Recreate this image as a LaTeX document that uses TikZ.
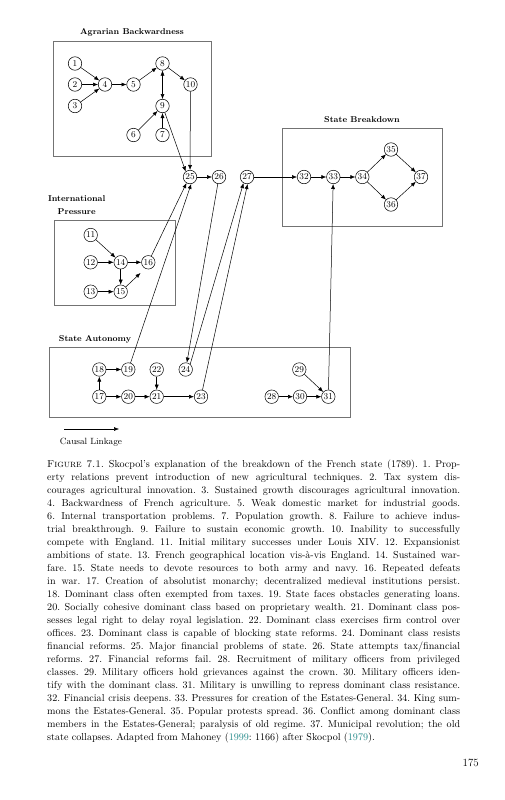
\documentclass[tikz,border=0pt]{standalone}
\usepackage{fontspec}
\usetikzlibrary{arrows.meta}
\definecolor{citeteal}{RGB}{40,140,140}
\definecolor{boxgray}{gray}{0.45}
\begin{document}
\begin{tikzpicture}[x=1pt,y=-1pt,
  n/.style={circle,draw,line width=0.5pt,inner sep=0.4pt,minimum size=13.5pt,font=\fontsize{9}{9}\selectfont},
  ar/.style={-{Latex[length=5pt,width=4pt]},line width=0.5pt},
  dar/.style={{Latex[length=5pt,width=4pt]}-{Latex[length=5pt,width=4pt]},line width=0.5pt},
  grp/.style={draw=boxgray,line width=0.9pt},
  ttl/.style={font=\fontsize{8.5}{12.5}\selectfont\bfseries,align=center,inner sep=0pt}]
\useasboundingbox[fill=white] (0,0) rectangle (505,800);

% group boxes and titles
\draw[grp] (53,41) rectangle (211.5,156);
\node[ttl] (tAgr) at (132,32) {Agrarian Backwardness};
\draw[grp] (282.7,128.3) rectangle (442.7,226);
\node[ttl] (tBrk) at (362,119.5) {State Breakdown};
\draw[grp] (54.3,220.7) rectangle (175.5,305.7);
\node[ttl] (tInt) at (76.7,205) {International\\Pressure};
\draw[grp] (49,347.7) rectangle (350.7,417.3);
\node[ttl] (tAut) at (95,339.3) {State Autonomy};

% Agrarian nodes
\node[n] (n1) at (75,63.5) {1};
\node[n] (n8) at (162.5,63.5) {8};
\node[n] (n2) at (75,84.5) {2};
\node[n] (n4) at (105,84.5) {4};
\node[n] (n5) at (133.5,84.5) {5};
\node[n] (n10) at (190.5,84.5) {10};
\node[n] (n3) at (75,106) {3};
\node[n] (n9) at (162.5,106) {9};
\node[n] (n6) at (133.5,135) {6};
\node[n] (n7) at (162.5,135) {7};

% top row
\node[n] (n25) at (190,177) {25};
\node[n] (n26) at (219,177) {26};
\node[n] (n27) at (247,177) {27};
\node[n] (n32) at (304,177) {32};
\node[n] (n33) at (333.3,177) {33};
\node[n] (n34) at (362.3,177) {34};
\node[n] (n35) at (391,149.5) {35};
\node[n] (n36) at (391,204.5) {36};
\node[n] (n37) at (421,177) {37};

% International
\node[n] (n11) at (90.7,235) {11};
\node[n] (n12) at (90.7,262.3) {12};
\node[n] (n14) at (120.7,262.3) {14};
\node[n] (n16) at (148.3,262.3) {16};
\node[n] (n13) at (90.7,291.7) {13};
\node[n] (n15) at (120.7,291.7) {15};
\coordinate (c15) at (140.5,273);

% Autonomy
\node[n] (n18) at (99.3,369.5) {18};
\node[n] (n19) at (128.3,369.5) {19};
\node[n] (n22) at (156.7,369.5) {22};
\node[n] (n24) at (185.7,369.5) {24};
\node[n] (n29) at (299.3,369.5) {29};
\node[n] (n17) at (99.3,396.7) {17};
\node[n] (n20) at (128.3,396.7) {20};
\node[n] (n21) at (156.7,396.7) {21};
\node[n] (n23) at (201,396.7) {23};
\node[n] (n28) at (271.7,396.7) {28};
\node[n] (n30) at (300,396.7) {30};
\node[n] (n31) at (328.3,396.7) {31};

% edges agrarian
\draw[ar] (n1) -- (n4);
\draw[ar] (n2) -- (n4);
\draw[ar] (n3) -- (n4);
\draw[ar] (n4) -- (n5);
\draw[ar] (n5) -- (n8);
\draw[ar] (n8) -- (n10);
\draw[dar] (n8) -- (n9);
\draw[ar] (n6) -- (n9);
\draw[ar] (n7) -- (n9);
\draw[ar] (n9) -- (n25.128);
\draw[ar] (n10) -- (n25);

% international
\draw[ar] (n11) -- (n14);
\draw[ar] (n12) -- (n14);
\draw[ar] (n14) -- (n16);
\draw[ar] (n14) -- (n15);
\draw[ar] (n13) -- (n15);
\draw[ar] (n15) -- (c15);
\draw[ar] (n16) -- (n25.-120);

% top row
\draw[ar] (n25) -- (n26);
\draw[ar] (n27) -- (n32);
\draw[ar] (n32) -- (n33);
\draw[ar] (n33) -- (n34);
\draw[ar] (n34) -- (n35);
\draw[ar] (n34) -- (n36);
\draw[ar] (n35) -- (n37);
\draw[ar] (n36) -- (n37);

% autonomy
\draw[ar] (n17) -- (n18);
\draw[ar] (n18) -- (n19);
\draw[ar] (n17) -- (n20);
\draw[ar] (n20) -- (n21);
\draw[ar] (n22) -- (n21);
\draw[ar] (n21) -- (n23);
\draw[ar] (n28) -- (n30);
\draw[ar] (n30) -- (n31);
\draw[ar] (n29) -- (n31);

% long links
\draw[ar] (n19) -- (n25.-80);
\draw[ar] (n26) -- (n24);
\draw[ar] (n24.50) -- (n27.-120);
\draw[ar] (n23) -- (n27.-85);
\draw[ar] (n31) -- (n33);

% legend
\coordinate (cl1) at (64,429);
\coordinate (cl2) at (119,429);
\draw[ar] (cl1) -- (cl2);
\node[font=\fontsize{9}{10}\selectfont,inner sep=0pt] (clt) at (91,442) {Causal Linkage};

% caption
\node[anchor=north west,inner sep=0pt,text width=413pt,align=justify,
  font=\fontsize{10.1}{13}\selectfont] (cap) at (47,459.5) {%
\frenchspacing\spaceskip=0.33em plus 0.3em minus 0.16em\relax
\textsc{Figure 7.1.} Skocpol's explanation of the breakdown of the French state (1789). 1. Prop-\linebreak
erty relations prevent introduction of new agricultural techniques. 2. Tax system dis-\linebreak
courages agricultural innovation. 3. Sustained growth discourages agricultural innovation.\linebreak
4. Backwardness of French agriculture. 5. Weak domestic market for industrial goods.\linebreak
6. Internal transportation problems. 7. Population growth. 8. Failure to achieve indus-\linebreak
trial breakthrough. 9. Failure to sustain economic growth. 10. Inability to successfully\linebreak
compete with England. 11. Initial military successes under Louis XIV. 12. Expansionist\linebreak
ambitions of state. 13. French geographical location vis-à-vis England. 14. Sustained war-\linebreak
fare. 15. State needs to devote resources to both army and navy. 16. Repeated defeats\linebreak
in war. 17. Creation of absolutist monarchy; decentralized medieval institutions persist.\linebreak
18. Dominant class often exempted from taxes. 19. State faces obstacles generating loans.\linebreak
20. Socially cohesive dominant class based on proprietary wealth. 21. Dominant class pos-\linebreak
sesses legal right to delay royal legislation. 22. Dominant class exercises firm control over\linebreak
offices. 23. Dominant class is capable of blocking state reforms. 24. Dominant class resists\linebreak
financial reforms. 25. Major financial problems of state. 26. State attempts tax/financial\linebreak
reforms. 27. Financial reforms fail. 28. Recruitment of military officers from privileged\linebreak
classes. 29. Military officers hold grievances against the crown. 30. Military officers iden-\linebreak
tify with the dominant class. 31. Military is unwilling to repress dominant class resistance.\linebreak
32. Financial crisis deepens. 33. Pressures for creation of the Estates-General. 34. King sum-\linebreak
mons the Estates-General. 35. Popular protests spread. 36. Conflict among dominant class\linebreak
members in the Estates-General; paralysis of old regime. 37. Municipal revolution; the old\linebreak
state collapses. Adapted from Mahoney (\textcolor{citeteal}{1999}: 1166) after Skocpol (\textcolor{citeteal}{1979}).};

% page number
\node[anchor=base east,inner sep=0pt,font=\fontsize{11}{12}\selectfont] (pg) at (479,766) {175};
\end{tikzpicture}
\end{document}
